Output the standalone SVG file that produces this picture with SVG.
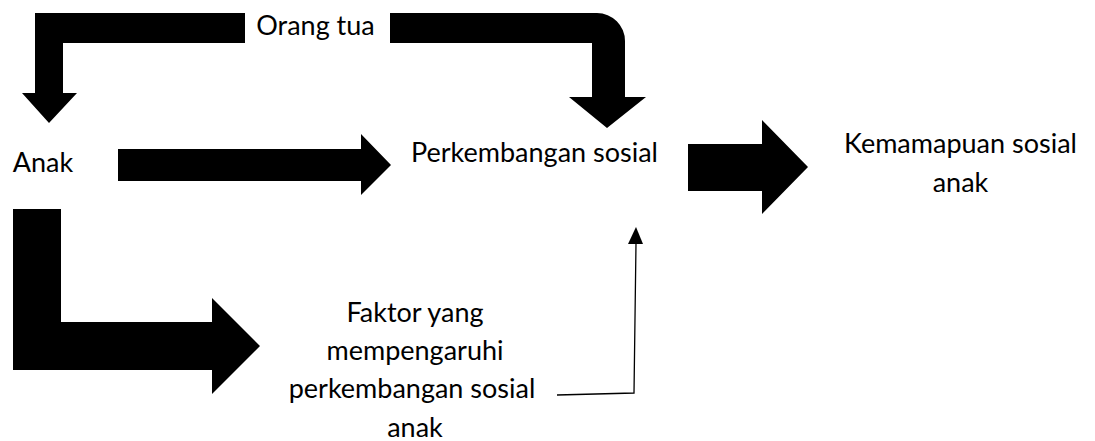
<svg xmlns="http://www.w3.org/2000/svg" width="1095" height="441" viewBox="0 0 1095 441">
<style>
.lbl{font-family:Lato,"Open Sans","Liberation Sans",sans-serif;font-size:27px;fill:#000;text-anchor:middle}
.blk{fill:#000;stroke:none}
.thin{fill:none;stroke:#000;stroke-width:1.3}
</style>
<rect width="1095" height="441" fill="#fff"/>
<g id="connectors">
<polygon class="blk" points="245,13 35,13 35,93 22,93 49,123 77,93 63,93 63,43 245,43"/>
<path class="blk" d="M390,13 L597,13 A28,28 0 0 1 625,41 L625,97 L646,97 L607,128 L569,97 L592,97 L592,43 L390,43 Z"/>
<polygon class="blk" points="118,149 361,149 361,134 391,165 361,195 361,181 118,181"/>
<polygon class="blk" points="688,144 762,144 762,120 808,167 762,214 762,191 688,191"/>
<polygon class="blk" points="13,209 61,209 61,322 212,322 212,298 260,346 212,394 212,370 13,370"/>
<polyline class="thin" points="557,395 634,393 636,243"/>
<polygon class="blk" points="636,227 643,244 628,244"/>
</g>
<g id="orang-tua"><text class="lbl" x="315.5" y="35">Orang tua</text></g>
<g id="anak"><text class="lbl" x="43" y="172">Anak</text></g>
<g id="perkembangan-sosial"><text class="lbl" x="534.5" y="162">Perkembangan sosial</text></g>
<g id="kemampuan-sosial"><text class="lbl" x="960.5" y="153">Kemamapuan sosial</text><text class="lbl" x="960.5" y="192">anak</text></g>
<g id="faktor"><text class="lbl" x="415" y="322">Faktor yang</text><text class="lbl" x="415" y="360">mempengaruhi</text><text class="lbl" x="412" y="398">perkembangan sosial</text><text class="lbl" x="415" y="437">anak</text></g>
</svg>
